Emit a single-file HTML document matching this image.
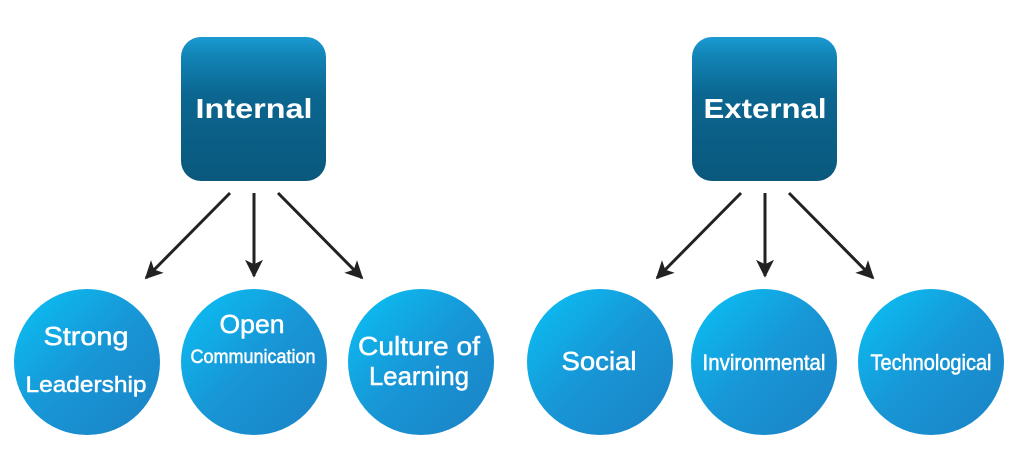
<!DOCTYPE html>
<html><head><meta charset="utf-8"><style>
html,body{margin:0;padding:0;background:#fff;}
svg{display:block;}
text{font-family:"Liberation Sans Narrow","Liberation Sans",sans-serif;fill:#fff;text-anchor:middle;}
.c{stroke:#fff;stroke-width:0.5;}
</style></head><body>
<svg width="1024" height="463" viewBox="0 0 1024 463" xmlns="http://www.w3.org/2000/svg">
<defs>
<linearGradient id="box" x1="0" y1="0" x2="0" y2="1">
<stop offset="0" stop-color="#1a9ad2"/>
<stop offset="0.12" stop-color="#1286b8"/>
<stop offset="0.4" stop-color="#0b6690"/>
<stop offset="1" stop-color="#0a587c"/>
</linearGradient>
<linearGradient id="circ" x1="0.1" y1="0.1" x2="0.9" y2="0.9">
<stop offset="0" stop-color="#0cbaf0"/>
<stop offset="0.5" stop-color="#1896d6"/>
<stop offset="1" stop-color="#1a86c8"/>
</linearGradient>
<marker id="ah" viewBox="0 0 10 10" refX="9" refY="5" markerWidth="6" markerHeight="6" orient="auto">
<path d="M0,0 L10,5 L0,10 L2.5,5 z" fill="#222"/>
</marker>
</defs>
<rect x="181" y="37" width="145" height="144" rx="20" fill="url(#box)"/>
<rect x="692" y="37" width="145" height="144" rx="20" fill="url(#box)"/>
<text x="254" y="118" font-size="28" font-weight="bold" textLength="117" lengthAdjust="spacingAndGlyphs">Internal</text>
<text x="765" y="118" font-size="28" font-weight="bold" textLength="123" lengthAdjust="spacingAndGlyphs">External</text>
<g stroke="#222" stroke-width="3" marker-end="url(#ah)">
<line x1="230" y1="193" x2="146" y2="278"/>
<line x1="254" y1="193" x2="254" y2="276"/>
<line x1="278" y1="193" x2="362" y2="278"/>
<line x1="741" y1="193" x2="657" y2="278"/>
<line x1="765" y1="193" x2="765" y2="276"/>
<line x1="789" y1="193" x2="873" y2="278"/>
</g>
<circle cx="87" cy="362" r="73" fill="url(#circ)"/>
<circle cx="254" cy="362" r="73" fill="url(#circ)"/>
<circle cx="421" cy="362" r="73" fill="url(#circ)"/>
<circle cx="600" cy="362" r="73" fill="url(#circ)"/>
<circle cx="764" cy="362" r="73" fill="url(#circ)"/>
<circle cx="931" cy="362" r="73" fill="url(#circ)"/>
<g class="c">
<text x="86" y="345" font-size="26" textLength="85" lengthAdjust="spacingAndGlyphs">Strong</text>
<text x="86" y="392" font-size="22" textLength="121" lengthAdjust="spacingAndGlyphs">Leadership</text>
<text x="252" y="333" font-size="26" textLength="65" lengthAdjust="spacingAndGlyphs">Open</text>
<text x="253" y="363" font-size="19" textLength="125" lengthAdjust="spacingAndGlyphs">Communication</text>
<text x="419" y="355" font-size="26" textLength="122" lengthAdjust="spacingAndGlyphs">Culture of</text>
<text x="419" y="385" font-size="26" textLength="100" lengthAdjust="spacingAndGlyphs">Learning</text>
<text x="599" y="370" font-size="26" textLength="75" lengthAdjust="spacingAndGlyphs">Social</text>
<text x="764" y="370" font-size="22" textLength="123" lengthAdjust="spacingAndGlyphs">Invironmental</text>
<text x="931" y="370" font-size="22" textLength="121" lengthAdjust="spacingAndGlyphs">Technological</text>
</g>
</svg>
</body></html>
